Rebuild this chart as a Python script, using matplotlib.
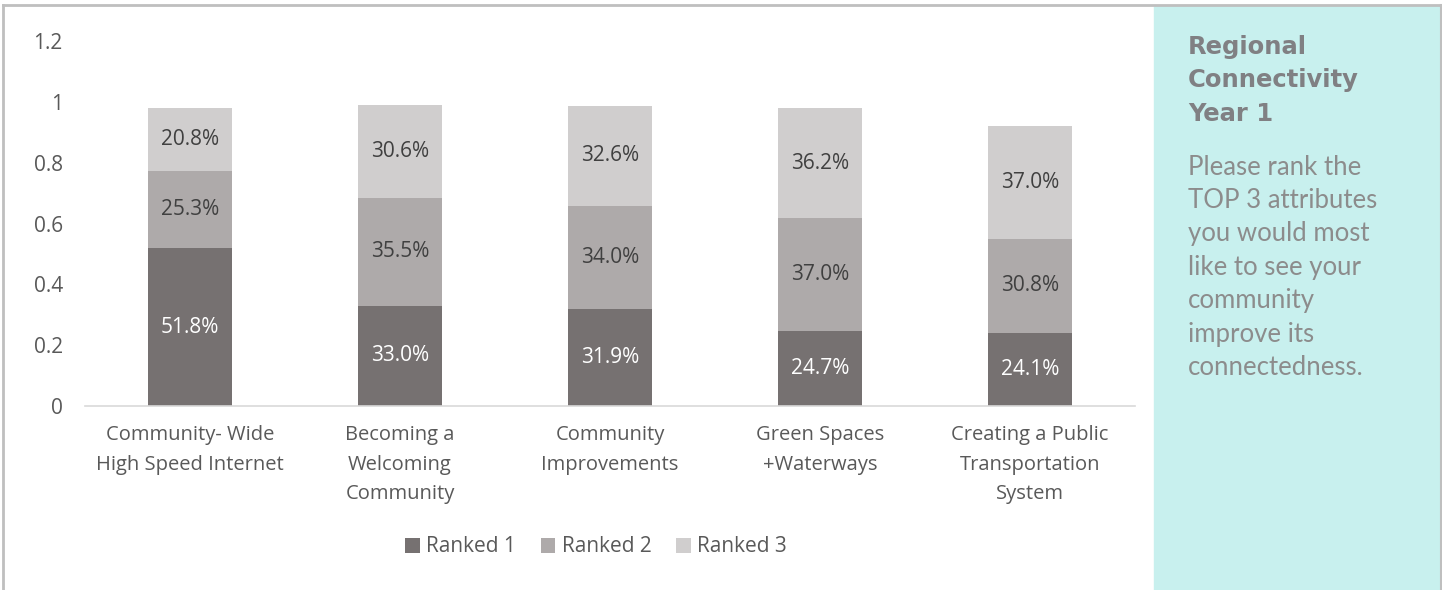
import matplotlib.pyplot as plt
import numpy as np
from matplotlib.patches import Rectangle

categories = ["Community- Wide\nHigh Speed Internet", "Becoming a\nWelcoming\nCommunity",
              "Community\nImprovements", "Green Spaces\n+Waterways",
              "Creating a Public\nTransportation\nSystem"]
ranked1 = [0.518, 0.330, 0.319, 0.247, 0.241]
ranked2 = [0.253, 0.355, 0.340, 0.370, 0.308]
ranked3 = [0.208, 0.306, 0.326, 0.362, 0.370]
series_names = ["Ranked 1", "Ranked 2", "Ranked 3"]
colors = ["#767171", "#AEAAAA", "#D0CECE"]

plt.rcParams['font.family'] = ['Open Sans', 'DejaVu Sans']
txt = "#595959"

fig = plt.figure(figsize=(14.42, 5.9), dpi=100)
W, H = 1442, 590

# sidebar panel
fig.patches.append(Rectangle((1154 / W, 0), (1440 - 1154) / W, 584 / H,
                             transform=fig.transFigure, color="#C8F0EE", zorder=0))
# border lines
fig.add_artist(plt.Line2D([3 / W, 1], [1 - 5 / H, 1 - 5 / H], transform=fig.transFigure,
                          color="#BFBFBF", lw=2))
fig.add_artist(plt.Line2D([3 / W, 3 / W], [0, 1 - 5 / H], transform=fig.transFigure,
                          color="#BFBFBF", lw=2))
fig.add_artist(plt.Line2D([1441 / W, 1441 / W], [0, 1 - 5 / H], transform=fig.transFigure,
                          color="#BFBFBF", lw=1.5))

ax = fig.add_axes([85 / W, 1 - 406 / H, 1050 / W, 365 / H])
x = np.arange(len(categories))
bottom = np.zeros(len(categories))
for vals, name, c in zip([ranked1, ranked2, ranked3], series_names, colors):
    ax.bar(x, vals, 0.4, bottom=bottom, color=c, label=name)
    for xi, v, b in zip(x, vals, bottom):
        tc = "white" if name == "Ranked 1" else "#404040"
        ax.text(xi, b + v / 2, f"{v * 100:.1f}%", ha="center", va="center",
                fontsize=15, color=tc)
    bottom += np.array(vals)

ax.set_xlim(-0.5, 4.5)
ax.set_ylim(0, 1.2)
ax.set_yticks([0, 0.2, 0.4, 0.6, 0.8, 1, 1.2])
ax.set_yticklabels(["0", "0.2", "0.4", "0.6", "0.8", "1", "1.2"])
ax.set_xticks(x)
ax.set_xticklabels(categories, fontsize=14.5, color=txt, linespacing=1.62)
ax.tick_params(axis="y", length=0, labelsize=15, labelcolor=txt, pad=16)
ax.tick_params(axis="x", length=0, pad=14)
for s in ["top", "right", "left"]:
    ax.spines[s].set_visible(False)
ax.spines["bottom"].set_color("#D9D9D9")
ax.spines["bottom"].set_linewidth(1.2)

leg = fig.legend(loc="center", bbox_to_anchor=(596 / W, 1 - 547 / H), ncol=3, frameon=False,
                 fontsize=15, handlelength=0.7, handleheight=0.7, handletextpad=0.3,
                 columnspacing=1.2)
for t in leg.get_texts():
    t.set_color(txt)

fig.text(1188 / W, 1 - 121 / H, "Regional\nConnectivity\nYear 1", fontsize=17.5,
         fontweight="heavy", family="DejaVu Sans", color="#808083",
         va="baseline", linespacing=1.5)
fig.text(1188 / W, 1 - 375 / H, "Please rank the\nTOP 3 attributes\nyou would most\n"
         "like to see your\ncommunity\nimprove its\nconnectedness.", fontsize=18.5,
         family=["Lato", "DejaVu Sans"], color="#8C8C8C", va="baseline", linespacing=1.42)

fig.savefig("out.png", dpi=100)
